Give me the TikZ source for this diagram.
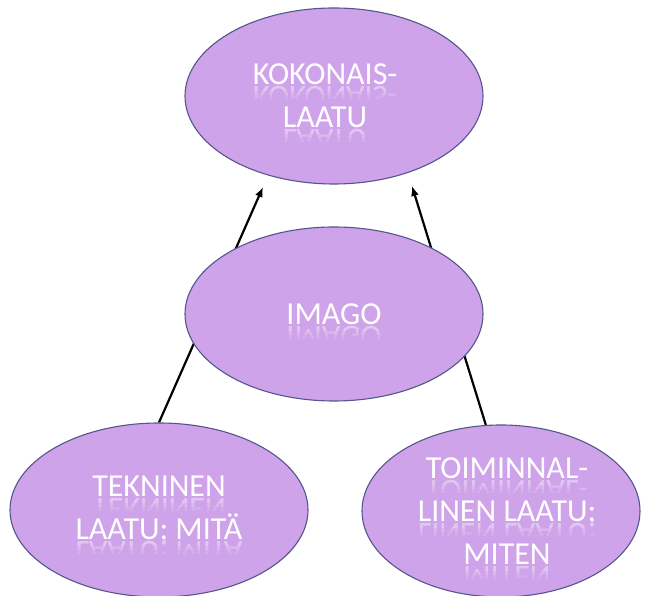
\documentclass[tikz,border=0pt]{standalone}
\usepackage{graphicx}
\usepackage{fontspec}
\setmainfont{Carlito}
\usetikzlibrary{shapes.geometric,arrows.meta,backgrounds}
\definecolor{lav}{RGB}{207,163,233}
\definecolor{edgeblue}{RGB}{84,86,140}
\tikzset{
  plain/.style={shape=rectangle,draw=none,fill=none,inner sep=0pt,outer sep=0pt,
    minimum width=0pt,minimum height=0pt,anchor=base},
  bub/.style={ellipse,draw=edgeblue,line width=1.1pt,fill=lav,inner sep=0pt,
    align=center,text=white,font=\fontsize{32}{43}\selectfont},
  link/.style={line width=2.2pt,draw=black,-{Latex[length=10pt,width=8pt]}}
}
\newcommand\rfl[1]{%
  \tikz[baseline=0pt,x=1pt,y=1pt]{%
    \node[plain,text=white] (rfA) at (0,0) {#1};
    \begin{scope}[overlay]
      \foreach \d/\c in {14/12,10/24,6/38}{%
        \begin{scope}
          \clip ([yshift=0pt]rfA.base west) rectangle ([yshift=-\d pt]rfA.base east);
          \node[plain,text=white!\c!lav] at (0,-2) {\scalebox{1}[-1]{#1}};
        \end{scope}}
    \end{scope}}}
\begin{document}
\begin{tikzpicture}[x=1pt,y=1pt]
  \useasboundingbox (0,0) rectangle (648,596);
  \node[bub,minimum width=298pt,minimum height=176pt] (kok) at (334,500)
    {\rfl{KOKONAIS-}\hspace*{18pt}\\\rfl{LAATU}\hspace*{18pt}};
  \node[bub,minimum width=298pt,minimum height=174pt] (img) at (334,282)
    {\rfl{IMAGO}};
  \node[bub,minimum width=298pt,minimum height=174pt] (tek) at (159,86)
    {\rfl{TEKNINEN}\\\rfl{LAATU; MITÄ}};
  \node[bub,minimum width=278pt,minimum height=172pt] (toi) at (501,85)
    {\hspace*{12pt}\rfl{TOIMINNAL-}\\\hspace*{12pt}\rfl{LINEN LAATU;}\\\hspace*{12pt}\rfl{MITEN}};
  \coordinate (a1) at (263,409);
  \coordinate (a2) at (412,410);
  \begin{scope}[on background layer]
    \fill[white] (0,0) rectangle (648,596);
    \draw[link] (tek.north) -- (a1);
    \draw[link] (toi.100) -- (a2);
  \end{scope}
\end{tikzpicture}
\end{document}
